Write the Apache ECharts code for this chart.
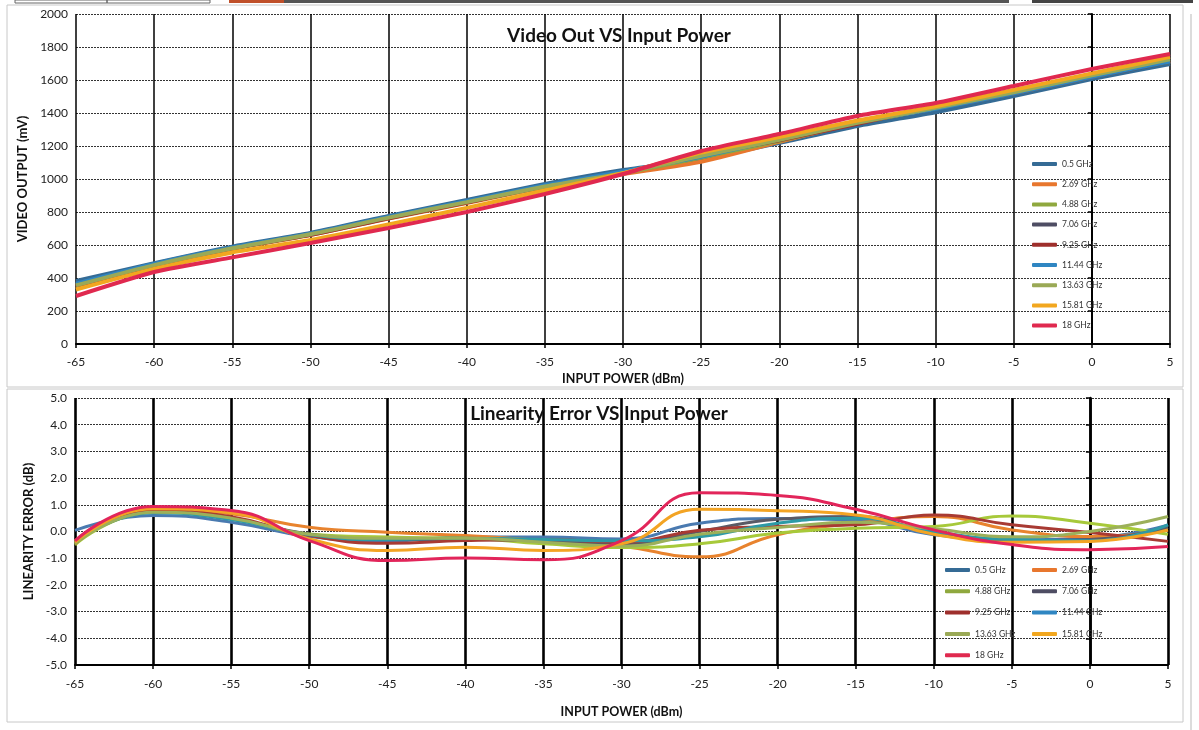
<!DOCTYPE html>
<html>
<head>
<meta charset="utf-8">
<script src="https://cdn.jsdelivr.net/npm/echarts@6/dist/echarts.min.js"></script>
<style>
html,body{margin:0;padding:0;background:#fff;}
#chart{width:1199px;height:730px;}
</style>
</head>
<body>
<div id="chart"></div>
<script>
// ---- data ----
const inputPower = [-65, -60, -55, -50, -45, -40, -35, -30, -25, -20, -15, -10, -5, 0, 5];
const seriesNames = ['0.5 GHz', '2.69 GHz', '4.88 GHz', '7.06 GHz', '9.25 GHz', '11.44 GHz', '13.63 GHz', '15.81 GHz', '18 GHz'];

// Video output (mV)
const vo_0_5   = [382, 490, 590, 673, 776, 873, 970, 1054, 1120, 1218, 1321, 1405, 1503, 1606, 1697];
const vo_2_69  = [345, 470, 575, 660, 760, 855, 950, 1030, 1105, 1225, 1340, 1430, 1520, 1620, 1715];
const vo_4_88  = [355, 480, 580, 665, 765, 860, 955, 1035, 1130, 1230, 1340, 1430, 1535, 1625, 1710];
const vo_7_06  = [360, 480, 582, 665, 765, 860, 958, 1040, 1140, 1245, 1345, 1430, 1520, 1620, 1710];
const vo_9_25  = [350, 478, 580, 662, 762, 858, 958, 1040, 1145, 1235, 1335, 1440, 1535, 1630, 1715];
const vo_11_44 = [365, 485, 585, 668, 770, 865, 962, 1045, 1135, 1240, 1345, 1425, 1520, 1620, 1712];
const vo_13_63 = [355, 478, 580, 665, 766, 860, 955, 1035, 1140, 1238, 1340, 1432, 1525, 1628, 1725];
const vo_15_81 = [330, 455, 555, 630, 725, 825, 930, 1035, 1160, 1255, 1355, 1440, 1540, 1640, 1740];
const vo_18    = [291, 436, 525, 612, 703, 800, 909, 1030, 1170, 1273, 1382, 1461, 1564, 1667, 1758];

// Linearity error (dB)
const le_0_5   = [0.04, 0.60, 0.35, -0.19, -0.36, -0.21, -0.21, -0.28, 0.31, 0.49, 0.43, -0.12, -0.31, -0.25, 0.25];
const le_2_69  = [-0.35, 0.85, 0.66, 0.16, -0.03, -0.15, -0.34, -0.55, -0.95, -0.12, 0.31, 0.56, 0.06, -0.19, 0.05];
const le_4_88  = [-0.50, 0.72, 0.48, -0.09, -0.21, -0.25, -0.46, -0.60, -0.46, -0.06, 0.12, 0.19, 0.58, 0.31, -0.10];
const le_7_06  = [-0.40, 0.75, 0.50, -0.10, -0.30, -0.30, -0.35, -0.45, 0.00, 0.46, 0.56, -0.05, -0.35, -0.30, 0.15];
const le_9_25  = [-0.45, 0.80, 0.55, -0.15, -0.44, -0.34, -0.30, -0.40, 0.05, 0.19, 0.25, 0.62, 0.25, -0.04, -0.37];
const le_11_44 = [-0.40, 0.70, 0.45, -0.12, -0.30, -0.25, -0.30, -0.35, -0.20, 0.31, 0.50, 0.00, -0.30, -0.35, 0.25];
const le_13_63 = [-0.45, 0.72, 0.50, -0.10, -0.25, -0.25, -0.40, -0.55, -0.10, 0.15, 0.35, 0.10, -0.20, 0.00, 0.56];
const le_15_81 = [-0.40, 0.85, 0.70, -0.28, -0.71, -0.59, -0.71, -0.46, 0.83, 0.78, 0.62, -0.10, -0.40, -0.37, 0.06];
const le_18    = [-0.35, 0.94, 0.79, -0.34, -1.09, -0.99, -1.06, -0.34, 1.45, 1.35, 0.83, 0.06, -0.49, -0.68, -0.56];

const yTopTicks = [0, 2000, 200];
const yBotTicks = [-5, 5, 1];

// ---- styling ----
const colorsTop = ['#356b95', '#e8772e', '#8fa83e', '#4e4d63', '#9e2f2c', '#2f86c2', '#9aa956', '#f2a71f', '#e0294f'];
const colorsBot = ['#4a7ab0', '#e8832e', '#a7c93a', '#5a5a66', '#a83a33', '#2d9aa6', '#9cb05a', '#f3a424', '#e2255a'];
const FONT = 'Lato, "Open Sans", sans-serif';

const voData = [vo_0_5, vo_2_69, vo_4_88, vo_7_06, vo_9_25, vo_11_44, vo_13_63, vo_15_81, vo_18];
const leData = [le_0_5, le_2_69, le_4_88, le_7_06, le_9_25, le_11_44, le_13_63, le_15_81, le_18];

function pairs(arr){ return inputPower.map((x,i)=>[x, arr[i]]); }

const series = [];
seriesNames.forEach((n,i)=>{
  series.push({
    name: n, type: 'line', xAxisIndex: 0, yAxisIndex: 0,
    data: pairs(voData[i]), smooth: 0.2, showSymbol: false, symbol: 'none',
    lineStyle: {width: 4, color: colorsTop[i]}, itemStyle: {color: colorsTop[i]}, z: 3 + i
  });
});
seriesNames.forEach((n,i)=>{
  series.push({
    name: n, type: 'line', xAxisIndex: 1, yAxisIndex: 1,
    data: pairs(leData[i]), smooth: 0.5, showSymbol: false, symbol: 'none',
    lineStyle: {width: 3, color: colorsBot[i]}, itemStyle: {color: colorsBot[i]}, z: 3 + i
  });
});

function xAxis(gridIndex, vLineWidth, labelMargin, nameGap){
  return {
    type: 'value', gridIndex, min: -65, max: 5, interval: 5,
    axisLine: {onZero: false, lineStyle: {color: '#000', width: 2}},
    axisTick: {show: true, inside: false, length: 4, lineStyle: {color: '#000', width: 1.5}},
    axisLabel: {color: '#222', fontSize: 12, fontFamily: FONT, margin: labelMargin},
    splitLine: {show: true, lineStyle: {color: '#000', width: vLineWidth}},
    name: 'INPUT POWER (dBm)', nameLocation: 'middle', nameGap: nameGap,
    nameTextStyle: {fontSize: 12.5, fontWeight: 'bold', color: '#111', fontFamily: FONT}
  };
}

const legendText = {fontSize: 8.5, color: '#333', fontFamily: FONT, lineHeight: 12};

const option = {
  animation: false,
  backgroundColor: '#fff',
  textStyle: {fontFamily: FONT},
  title: [
    {text: 'Video Out VS Input Power', left: 614, top: 21, textAlign: 'center',
     textStyle: {fontSize: 19, fontWeight: 'bold', color: '#111', fontFamily: FONT}},
    {text: 'Linearity Error VS Input Power', left: 594, top: 399, textAlign: 'center',
     textStyle: {fontSize: 19, fontWeight: 'bold', color: '#111', fontFamily: FONT}}
  ],
  legend: [
    {data: seriesNames, orient: 'vertical', left: 1027, top: 153, itemWidth: 25, itemHeight: 4, itemGap: 8.2,
     icon: 'roundRect', textStyle: legendText, selectedMode: false},
    {data: ['0.5 GHz', '4.88 GHz', '9.25 GHz', '13.63 GHz', '18 GHz'], orient: 'vertical', left: 940, top: 559,
     itemWidth: 25, itemHeight: 4, itemGap: 9.3, icon: 'roundRect', textStyle: legendText, selectedMode: false},
    {data: ['2.69 GHz', '7.06 GHz', '11.44 GHz', '15.81 GHz'], orient: 'vertical', left: 1027, top: 559,
     itemWidth: 25, itemHeight: 4, itemGap: 9.3, icon: 'roundRect', textStyle: legendText, selectedMode: false}
  ],
  grid: [
    {left: 76, right: 29, top: 14, height: 330, containLabel: false},
    {left: 75, right: 31, top: 398, height: 267, containLabel: false}
  ],
  xAxis: [xAxis(0, 1.5, 12, 28), xAxis(1, 2.6, 13, 40)],
  yAxis: [
    {type: 'value', gridIndex: 0, min: yTopTicks[0], max: yTopTicks[1], interval: yTopTicks[2],
     axisLine: {show: true, lineStyle: {color: '#000', width: 2}},
     axisTick: {show: true, length: 4, lineStyle: {color: '#000', width: 1.5}},
     axisLabel: {color: '#222', fontSize: 12, fontFamily: FONT, margin: 8, formatter: v => String(v)},
     splitLine: {show: true, lineStyle: {color: '#333', width: 1, type: [2, 1]}},
     name: 'VIDEO OUTPUT (mV)', nameLocation: 'middle', nameGap: 43,
     nameTextStyle: {fontSize: 13, fontWeight: 'bold', color: '#111', fontFamily: FONT}},
    {type: 'value', gridIndex: 1, min: yBotTicks[0], max: yBotTicks[1], interval: yBotTicks[2],
     axisLine: {show: true, lineStyle: {color: '#000', width: 2.5}},
     axisTick: {show: true, length: 4, lineStyle: {color: '#000', width: 1.5}},
     axisLabel: {color: '#222', fontSize: 12, fontFamily: FONT, margin: 8, formatter: v => v.toFixed(1)},
     splitLine: {show: true, lineStyle: {color: '#333', width: 1, type: [2, 1]}},
     name: 'LINEARITY ERROR (dB)', nameLocation: 'middle', nameGap: 38,
     nameTextStyle: {fontSize: 13, fontWeight: 'bold', color: '#111', fontFamily: FONT}}
  ],
  graphic: [
    {type: 'rect', shape: {x: 7, y: 5, width: 1176, height: 382}, style: {fill: 'none', stroke: '#c8c8c8', lineWidth: 1}, z: -10},
    {type: 'rect', shape: {x: 7, y: 389, width: 1176, height: 333}, style: {fill: 'none', stroke: '#c8c8c8', lineWidth: 1}, z: -10},
    {type: 'rect', shape: {x: 15, y: 0, width: 92, height: 3}, style: {fill: 'none', stroke: '#666', lineWidth: 1}, z: -10},
    {type: 'rect', shape: {x: 107, y: 0, width: 103, height: 3}, style: {fill: 'none', stroke: '#666', lineWidth: 1}, z: -10},
    {type: 'rect', shape: {x: 229, y: 0, width: 55, height: 3}, style: {fill: '#c0502a'}, z: -10},
    {type: 'rect', shape: {x: 284, y: 0, width: 725, height: 3}, style: {fill: '#555'}, z: -10},
    {type: 'rect', shape: {x: 1032, y: 0, width: 161, height: 3}, style: {fill: '#444'}, z: -10},
    {type: 'line', shape: {x1: 1191, y1: 14, x2: 1191, y2: 730}, style: {stroke: '#d0d0d0', lineWidth: 1.5}, z: -10}
  ],
  series
};

const chart = echarts.init(document.getElementById('chart'), null, {renderer: 'canvas'});
chart.setOption(option);
</script>
</body>
</html>
